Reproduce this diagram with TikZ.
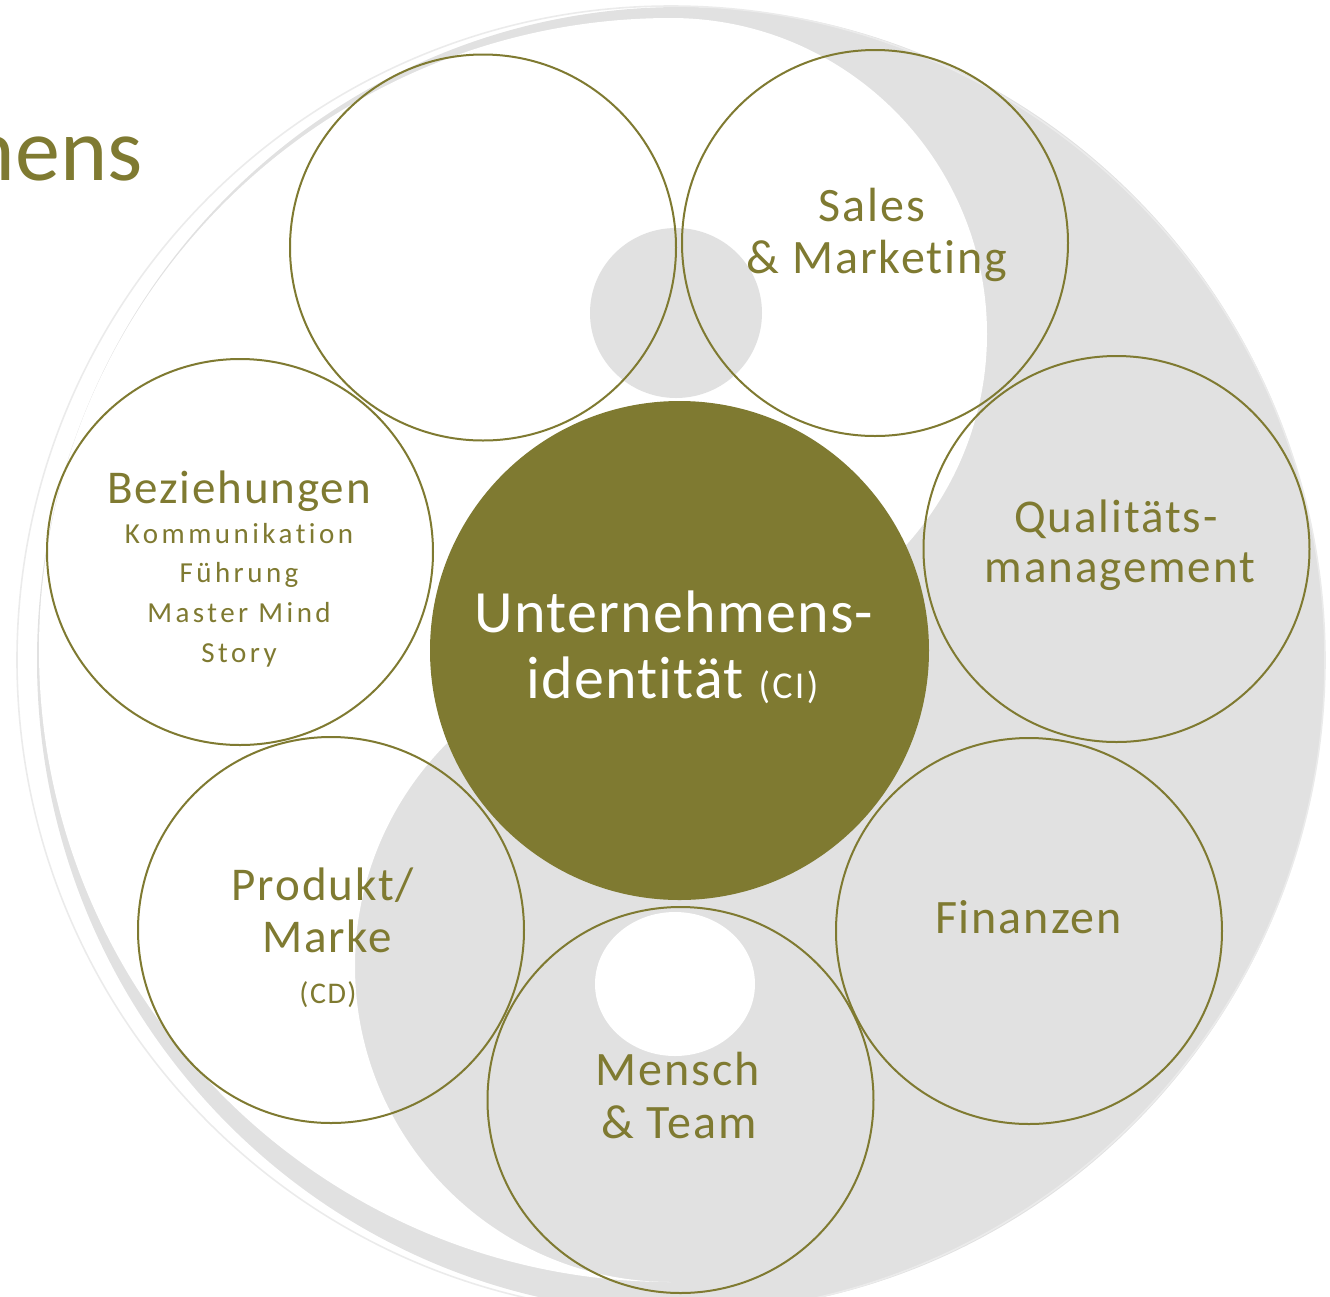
\documentclass[tikz,border=0pt]{standalone}
\usepackage{fontspec}
\setmainfont[Ligatures=NoCommon]{Carlito}
\newfontfamily\fmain[LetterSpace=4,Ligatures=NoCommon]{Carlito}
\newfontfamily\fsub[LetterSpace=12,Ligatures=NoCommon]{Carlito}
\newfontfamily\fcen[LetterSpace=2,Ligatures=NoCommon]{Carlito}
\newfontfamily\fci[LetterSpace=6,Ligatures=NoCommon]{Carlito}
\newfontfamily\fcd[LetterSpace=5,Ligatures=NoCommon]{Carlito}
\definecolor{ciolive}{HTML}{7F7A31}
\definecolor{ygray}{HTML}{E1E1E1}
\begin{document}
\begin{tikzpicture}[x=0.5pt, y=-0.5pt,
  ring/.style={circle, draw=ciolive, line width=1pt, minimum size=193pt, inner sep=0pt},
  lbl/.style={anchor=base, text=ciolive, inner sep=0pt, font=\fmain\fontsize{24pt}{28pt}\selectfont},
  sub/.style={anchor=base, text=ciolive, inner sep=0pt, font=\fsub\fontsize{14.5pt}{16pt}\selectfont},
  cen/.style={anchor=base, text=white, inner sep=0pt, font=\fcen\fontsize{30pt}{34pt}\selectfont}]
\useasboundingbox (0,0) rectangle (1330,1297);
\clip (0,0) rectangle (1330,1297);
% yin-yang background
\fill[ygray] (681,660) ellipse[x radius=644, y radius=653];
\draw[black!8, line width=0.8pt] (671,660) circle[radius=654];
\fill[white] (671,18) arc[start angle=-90, end angle=-270, radius=632]
  arc[start angle=-270, end angle=-90, radius=316]
  arc[start angle=-270, end angle=-450, radius=316] -- cycle;
\fill[ygray] (676,313) ellipse[x radius=86, y radius=85];
\fill[white] (675,984) ellipse[x radius=80, y radius=72];
% heading fragment
\node[anchor=base east, text=ciolive, inner sep=0pt, font=\fontsize{45pt}{50pt}\selectfont] (head) at (143,180) {mens};
% rings
\node[ring] (tl) at (483,247.5) {};
\node[ring] (sm) at (875,243) {};
\node[ring] (bz) at (240,552) {};
\node[ring] (qm) at (1116.5,549) {};
\node[ring] (pm) at (331,930) {};
\node[ring] (fi) at (1029,931) {};
\node[ring] (mt) at (680.5,1100) {};
\node[circle, fill=ciolive, minimum size=249.5pt, inner sep=0pt] (ci) at (679.5,650.5) {};
% labels
\node[lbl] (sm1) at (872,221) {Sales};
\node[lbl] (sm2) at (877,273) {\& Marketing};
\node[lbl, font=\fmain\fontsize{23.5pt}{28pt}\selectfont] (bz1) at (239,503) {Beziehungen};
\node[sub] (bz2) at (239,543) {Kommunikation};
\node[sub] (bz3) at (239,582) {Führung};
\node[sub] (bz4) at (239,622) {Master Mind};
\node[sub] (bz5) at (239,662) {Story};
\node[cen] (ci1) at (674,632) {Unternehmens-};
\node[cen] (ci2) at (672.5,698) {identität {\fci\fontsize{19pt}{22pt}\selectfont(CI)}};
\node[lbl, font=\fmain\fontsize{23.5pt}{28pt}\selectfont] (qm1) at (1116,532) {Qualitäts-};
\node[lbl, font=\fmain\fontsize{23.5pt}{28pt}\selectfont] (qm2) at (1120,582) {management};
\node[lbl, font=\fmain\fontsize{23.5pt}{28pt}\selectfont] (pm1) at (323,900) {Produkt/};
\node[lbl, font=\fmain\fontsize{23.5pt}{28pt}\selectfont] (pm2) at (327,952) {Marke};
\node[lbl, font=\fcd\fontsize{15pt}{18pt}\selectfont] (pm3) at (328,1003) {(CD)};
\node[lbl] (fi1) at (1028.5,933) {Finanzen};
\node[lbl] (mt1) at (678,1085) {Mensch};
\node[lbl] (mt2) at (679,1138) {\& Team};
\end{tikzpicture}
\end{document}
